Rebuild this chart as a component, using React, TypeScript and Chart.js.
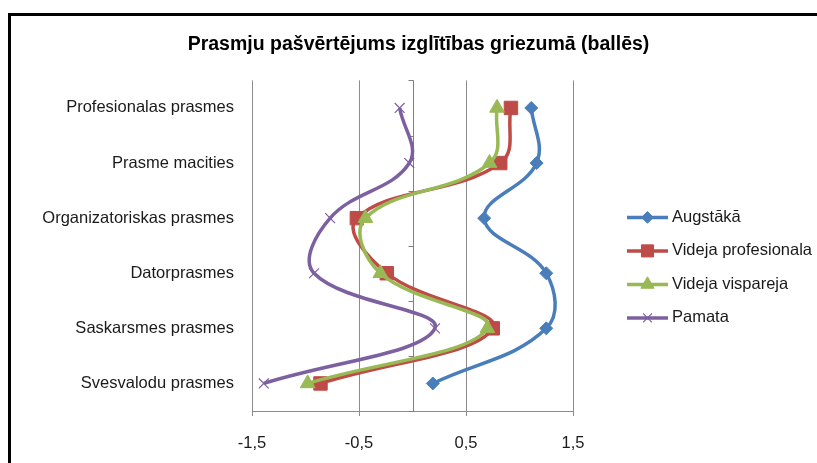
import React, { useEffect, useRef } from 'react';
import { Chart, registerables } from 'chart.js';
import { drawPoint } from 'chart.js/helpers';

Chart.register(...registerables);

const chartTitle = 'Prasmju pašvērtējums izglītības griezumā (ballēs)';
const categories = [
  'Profesionalas prasmes',
  'Prasme macities',
  'Organizatoriskas prasmes',
  'Datorprasmes',
  'Saskarsmes prasmes',
  'Svesvalodu prasmes',
];
const seriesNames = ['Augstākā', 'Videja profesionala', 'Videja vispareja', 'Pamata'];
const augstaka = [1.11, 1.16, 0.67, 1.25, 1.25, 0.19];
const videjaProfesionala = [0.92, 0.82, -0.52, -0.24, 0.75, -0.86];
const videjaVispareja = [0.79, 0.72, -0.44, -0.3, 0.7, -0.98];
const pamata = [-0.12, -0.03, -0.77, -0.92, 0.21, -1.39];
const xTicks = [-1.5, -0.5, 0.5, 1.5];

const FONT = "'Liberation Sans', Arial, sans-serif";

const seriesStyles = [
  { color: '#4A7EBB', pointStyle: 'rectRot', radius: 6.5, pbw: 1 },
  { color: '#BE4B48', pointStyle: 'rect', radius: 9.5, pbw: 1 },
  { color: '#98B954', pointStyle: 'triangle', radius: 8.5, pbw: 1 },
  { color: '#7D60A0', pointStyle: 'crossRot', radius: 7, pbw: 1.2 },
];

const zeroAxis = {
  id: 'zeroAxis',
  beforeDatasetsDraw(chart: any) {
    const { ctx, chartArea: ca, scales } = chart;
    const x = scales.x;
    const y = scales.y;
    const px = Math.round(x.getPixelForValue(0)) + 0.5;
    ctx.save();
    ctx.strokeStyle = '#808080';
    ctx.lineWidth = 1;
    ctx.beginPath();
    ctx.moveTo(px, ca.top);
    ctx.lineTo(px, ca.bottom);
    for (let i = 0; i <= categories.length; i++) {
      const py = Math.round(y.getPixelForValue(i - 0.5)) + 0.5;
      ctx.moveTo(px - 5, py);
      ctx.lineTo(px, py);
    }
    ctx.stroke();
    ctx.restore();
  },
};

const customLegend = {
  id: 'customLegend',
  afterDraw(chart: any) {
    const { ctx, chartArea: ca } = chart;
    const x0 = ca.right + 54;
    chart.data.datasets.forEach((ds: any, i: number) => {
      const yy = ca.top + 137 + i * 33.5;
      ctx.save();
      ctx.strokeStyle = ds.borderColor;
      ctx.lineWidth = 3.5;
      ctx.beginPath();
      ctx.moveTo(x0, yy);
      ctx.lineTo(x0 + 41, yy);
      ctx.stroke();
      ctx.fillStyle = ds.pointBackgroundColor;
      ctx.strokeStyle = ds.pointBorderColor;
      ctx.lineWidth = ds.pointBorderWidth;
      drawPoint(
        ctx,
        { radius: ds.pointRadius * 0.9, pointStyle: ds.pointStyle, rotation: 0, borderWidth: ds.pointBorderWidth } as any,
        x0 + 20.5,
        yy
      );
      ctx.fillStyle = '#1a1a1a';
      ctx.font = `16.5px ${FONT}`;
      ctx.textAlign = 'left';
      ctx.textBaseline = 'middle';
      ctx.fillText(ds.label, x0 + 45, yy);
      ctx.restore();
    });
  },
};

export default function App() {
  const canvasRef = useRef<HTMLCanvasElement | null>(null);

  useEffect(() => {
    const canvas = canvasRef.current;
    if (!canvas) return;
    const values = [augstaka, videjaProfesionala, videjaVispareja, pamata];
    const datasets = values.map((data, i) => {
      const s = seriesStyles[i];
      return {
        label: seriesNames[i],
        data,
        yAxisID: 'y',
        borderColor: s.color,
        backgroundColor: s.color,
        pointBackgroundColor: s.color,
        pointBorderColor: s.color,
        pointBorderWidth: s.pbw,
        pointStyle: s.pointStyle,
        pointRadius: s.radius,
        pointHoverRadius: s.radius,
        borderWidth: 3.5,
        tension: 0.4,
        fill: false,
        order: 4 - i,
      };
    });
    const chart = new Chart(canvas, {
      type: 'line',
      data: { labels: categories, datasets },
      plugins: [zeroAxis, customLegend],
      options: {
        indexAxis: 'y',
        responsive: false,
        animation: false,
        devicePixelRatio: 1,
        layout: { padding: { left: 20, right: 0, top: 0, bottom: 0 } },
        plugins: {
          legend: { display: false },
          tooltip: { enabled: false },
          title: {
            display: true,
            text: chartTitle,
            color: '#000',
            font: { family: FONT, size: 19.5, weight: 'bold' },
            padding: { top: 33, bottom: 24 },
          },
        },
        scales: {
          x: {
            type: 'linear',
            min: -1.5,
            max: 1.5,
            afterBuildTicks: (s: any) => {
              s.ticks = xTicks.map((v) => ({ value: v }));
            },
            afterFit: (s: any) => {
              s.height = 52;
            },
            grid: { color: '#8c8c8c', tickLength: 5, drawTicks: true, lineWidth: 1 },
            border: { display: true, color: '#8c8c8c' },
            ticks: {
              padding: 18,
              color: '#1a1a1a',
              font: { family: FONT, size: 16.5 },
              maxRotation: 0,
              autoSkip: false,
              callback: (v: any) => String(v).replace('.', ','),
            },
          },
          y: {
            type: 'category',
            position: 'left',
            offset: true,
            afterFit: (s: any) => {
              s.width = 232;
            },
            grid: { display: false, drawTicks: false },
            border: { display: false },
            ticks: {
              padding: 18,
              color: '#1a1a1a',
              font: { family: FONT, size: 16.5 },
              autoSkip: false,
            },
          },
          y2: {
            type: 'category',
            position: 'right',
            offset: true,
            afterFit: (s: any) => {
              s.width = 244;
            },
            grid: { display: false, drawTicks: false },
            border: { display: false },
            ticks: { display: false },
          },
        },
      } as any,
    });
    return () => chart.destroy();
  }, []);

  return (
    <div style={{ position: 'fixed', left: 0, top: 0, width: 817, height: 463, overflow: 'hidden', background: '#fff' }}>
      <div
        style={{
          position: 'absolute',
          left: 8,
          top: 13,
          width: 1000,
          height: 1000,
          borderTop: '3px solid #000',
          borderLeft: '3px solid #000',
        }}
      />
      <canvas ref={canvasRef} width={817} height={463} style={{ position: 'absolute', left: 0, top: 0, width: 817, height: 463 }} />
    </div>
  );
}
